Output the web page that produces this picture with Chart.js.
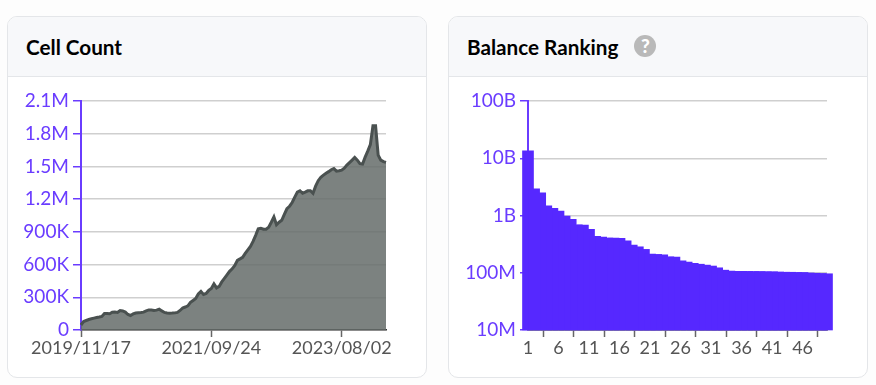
<!DOCTYPE html>
<html>
<head>
<meta charset="utf-8">
<script src="https://cdn.jsdelivr.net/npm/chart.js@4"></script>
<style>
    html, body { margin: 0; padding: 0; background: #fdfdfd; }
    body { width: 876px; height: 385px; position: relative; overflow: hidden; font-family: Lato, sans-serif; }
    .card { position: absolute; top: 16px; height: 360px; background: #fff; border: 1px solid #e4e6e9; border-radius: 10px; overflow: hidden; }
    .card-header { height: 59px; line-height: 60px; padding-left: 18px; background: #f7f8fa; border-bottom: 1px solid #e4e6e9; font-size: 20.7px; font-weight: 700; color: #000; }
    .help { display: inline-block; width: 22px; height: 22px; margin-left: 16px; line-height: 22px; border-radius: 50%; background: #b9b9b9; color: #fff; font-size: 19px; font-weight: 900; text-align: center; vertical-align: 2px; }
    canvas { position: absolute; left: 0; top: 60px; }
</style>
</head>
<body>
<div class="card" style="left:7px;width:418px">
    <div class="card-header">Cell Count</div>
    <canvas id="cell-chart" width="418" height="300"></canvas>
</div>
<div class="card" style="left:448px;width:418px">
    <div class="card-header">Balance Ranking<span class="help">?</span></div>
    <canvas id="balance-chart" width="418" height="300"></canvas>
</div>
<script>
// Cell Count, in thousands
const cellCounts = [
    46, 78, 87, 96, 103, 109, 115, 119, 124, 152,
    152, 149, 163, 165, 161, 179, 175, 164, 142, 133,
    147, 156, 159, 161, 164, 175, 184, 184, 179, 182,
    191, 175, 161, 156, 154, 155, 157, 161, 179, 202,
    211, 222, 253, 271, 289, 331, 354, 326, 335, 363,
    381, 423, 386, 400, 441, 473, 505, 538, 561, 593,
    639, 652, 666, 703, 735, 767, 813, 868, 928, 933,
    924, 924, 942, 988, 1037, 965, 988, 1006, 1061, 1112,
    1135, 1169, 1218, 1264, 1277, 1254, 1264, 1276, 1277, 1254,
    1319, 1369, 1401, 1420, 1438, 1452, 1470, 1480, 1457, 1461,
    1466, 1484, 1512, 1535, 1558, 1582, 1558, 1525, 1521, 1585,
    1640, 1700, 1873, 1873, 1604, 1558, 1544, 1537
];
const cellTickLabels = ['2019/11/17', '2021/09/24', '2023/08/02'];
const cellTickEvery = 50;

// Balance Ranking, top 50 accounts, in millions
const balances = [
    13500, 2910, 2480, 1470, 1340, 1190, 980, 858, 690, 682,
    573, 432, 420, 404, 404, 399, 362, 304, 284, 256,
    212, 209, 206, 190, 188, 161, 153, 145.5, 141, 136,
    131, 122, 111, 107, 106, 106, 105.5, 105, 105, 104,
    104, 103, 102, 102, 101, 101, 99, 98, 97, 96
];
const balanceTickEvery = 5;

const purple = '#6a3cff';
const xFont = { family: 'Lato, sans-serif', size: 18 };
const yFont = { family: 'Lato, sans-serif', size: 19 };

function formatCount(value) {
    if (value === 0) return '0';
    return value >= 1000000 ? (value / 1000000).toFixed(1) + 'M' : (value / 1000) + 'K';
}

function formatBalance(value) {
    if (value >= 1e9) return (value / 1e9) + 'B';
    return (value / 1e6) + 'M';
}

function yAxisBase(width) {
    return {
        afterFit: function(scale) { scale.width = width; },
        border: { color: purple, width: 2 },
        grid: { color: '#cfcfcf', lineWidth: 1.5, tickColor: purple, tickLength: 8, tickWidth: 1.5 },
    };
}

function xAxisBase(every) {
    return {
        afterFit: function(scale) { scale.height = 47; },
        afterBuildTicks: function(scale) {
            scale.ticks = scale.ticks.filter(t => t.value % every === 0);
        },
        border: { color: '#333', width: 1.5 },
        grid: { drawOnChartArea: false, color: '#666', tickLength: 7, tickWidth: 1.5 },
    };
}

new Chart(document.getElementById('cell-chart'), {
    type: 'line',
    data: {
        labels: cellCounts.map((v, i) => cellTickLabels[i / cellTickEvery] || ''),
        datasets: [{
            data: cellCounts.map(v => v * 1000),
            borderColor: '#4a5150',
            borderWidth: 3,
            backgroundColor: 'rgba(101,108,106,0.85)',
            fill: 'origin',
            pointRadius: 0,
            tension: 0
        }]
    },
    options: {
        responsive: false,
        animation: false,
        layout: { padding: { top: 24, right: 40 } },
        plugins: { legend: { display: false }, tooltip: { enabled: false } },
        scales: {
            x: Object.assign(xAxisBase(cellTickEvery), {
                ticks: { autoSkip: false, maxRotation: 0, color: '#555', font: xFont, padding: 0 }
            }),
            y: Object.assign(yAxisBase(73), {
                min: 0,
                max: 2100000,
                ticks: { stepSize: 300000, color: purple, font: yFont, padding: 4, callback: formatCount }
            })
        }
    }
});

new Chart(document.getElementById('balance-chart'), {
    type: 'bar',
    data: {
        labels: balances.map((v, i) => String(i + 1)),
        datasets: [{
            data: balances.map(v => v * 1e6),
            backgroundColor: '#5628ff',
            barThickness: 11,
            clip: false
        }]
    },
    options: {
        responsive: false,
        animation: false,
        layout: { padding: { top: 24, right: 40 } },
        plugins: { legend: { display: false }, tooltip: { enabled: false } },
        scales: {
            x: Object.assign(xAxisBase(balanceTickEvery), {
                offset: false,
                ticks: { autoSkip: false, maxRotation: 0, color: '#555', font: xFont, padding: 0 }
            }),
            y: Object.assign(yAxisBase(79), {
                type: 'logarithmic',
                min: 1e7,
                max: 1e11,
                afterBuildTicks: function(scale) {
                    scale.ticks = [1e7, 1e8, 1e9, 1e10, 1e11].map(value => ({ value: value }));
                },
                ticks: { color: purple, font: yFont, padding: 4, callback: formatBalance }
            })
        }
    }
});
</script>
</body>
</html>
